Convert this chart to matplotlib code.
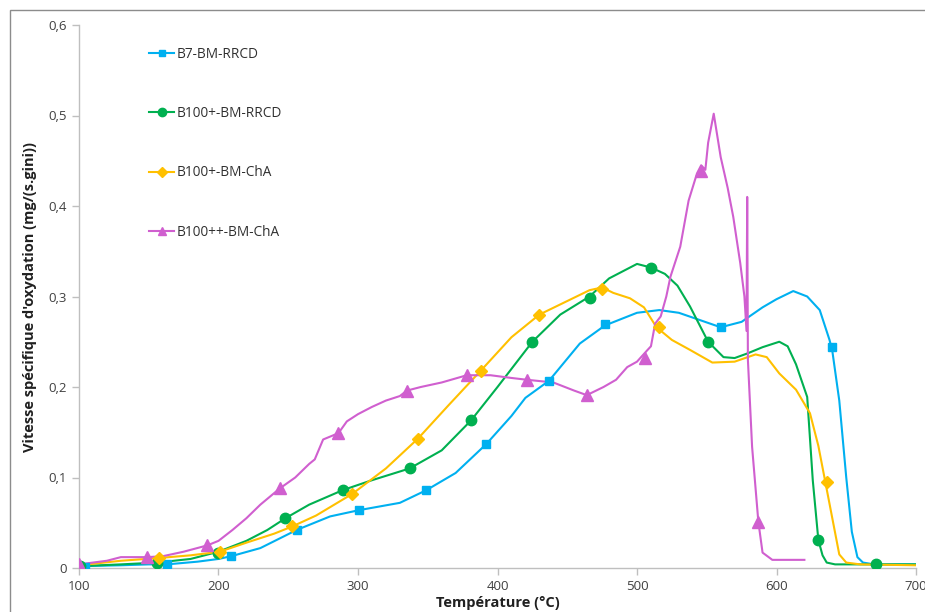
import matplotlib.pyplot as plt
from matplotlib.lines import Line2D
from matplotlib.patches import Rectangle

plt.rcParams['font.family'] = ['Open Sans', 'DejaVu Sans']

# --- data ---
# B7-BM-RRCD
t_b7 = [100, 130, 150, 163, 185, 200, 209, 230, 256, 280, 301, 330, 349, 370, 392,
        410, 420, 437, 459, 477, 500, 516, 530, 545, 560, 575, 590, 600, 612,
        622, 631, 638, 640, 645, 650, 654, 658, 662, 670, 700]
v_b7 = [0.002, 0.003, 0.004, 0.004, 0.007, 0.010, 0.013, 0.022, 0.042, 0.057, 0.064,
        0.072, 0.086, 0.105, 0.137, 0.168, 0.188, 0.207, 0.248, 0.268, 0.282, 0.285,
        0.282, 0.274, 0.266, 0.272, 0.288, 0.297, 0.306, 0.300, 0.285, 0.252, 0.240,
        0.185, 0.100, 0.040, 0.012, 0.006, 0.004, 0.004]
mk_t_b7 = [104, 163, 209, 256, 301, 349, 392, 437, 477, 560, 640]
mk_v_b7 = [0.001, 0.004, 0.013, 0.042, 0.064, 0.086, 0.137, 0.207, 0.270, 0.266, 0.244]

# B100+-BM-RRCD
t_g = [100, 130, 156, 180, 200, 220, 235, 248, 265, 289, 310, 337, 360, 381, 400,
       425, 445, 466, 480, 500, 510, 520, 529, 538, 551, 562, 570, 579, 590, 602,
       608, 614, 622, 626, 630, 633, 636, 642, 660, 700]
v_g = [0.002, 0.004, 0.006, 0.010, 0.018, 0.030, 0.042, 0.055, 0.070, 0.086, 0.097,
       0.110, 0.130, 0.163, 0.200, 0.250, 0.280, 0.300, 0.320, 0.336, 0.332, 0.325,
       0.312, 0.289, 0.250, 0.233, 0.232, 0.237, 0.244, 0.250, 0.245, 0.225, 0.189,
       0.097, 0.031, 0.014, 0.006, 0.004, 0.004, 0.004]
mk_t_g = [101, 156, 200, 248, 289, 337, 381, 425, 466, 510, 551, 630, 671]
mk_v_g = [0.002, 0.006, 0.017, 0.055, 0.086, 0.110, 0.163, 0.250, 0.298, 0.332, 0.250,
          0.031, 0.004]

# B100+-BM-ChA
t_y = [100, 130, 157, 180, 201, 220, 240, 253, 270, 296, 320, 343, 365, 388, 410,
       430, 450, 466, 475, 483, 495, 505, 514, 525, 538, 554, 570, 585, 593, 602,
       614, 624, 630, 635, 640, 645, 650, 660, 700]
v_y = [0.003, 0.008, 0.011, 0.014, 0.018, 0.028, 0.038, 0.046, 0.058, 0.082, 0.110,
       0.143, 0.180, 0.218, 0.255, 0.280, 0.295, 0.307, 0.310, 0.304, 0.298, 0.288,
       0.266, 0.252, 0.241, 0.227, 0.228, 0.236, 0.233, 0.215, 0.197, 0.171, 0.135,
       0.095, 0.055, 0.015, 0.006, 0.004, 0.003]
mk_t_y = [157, 201, 253, 296, 343, 388, 430, 475, 516, 636]
mk_v_y = [0.011, 0.018, 0.046, 0.082, 0.143, 0.218, 0.280, 0.308, 0.266, 0.095]

# B100++-BM-ChA
t_p = [100, 120, 130, 149, 160, 175, 192, 200, 210, 220, 230, 244, 255, 265, 269,
       275, 286, 292, 300, 310, 320, 330, 335, 345, 360, 378, 395, 410, 421, 440,
       455, 464, 476, 485, 493, 500, 507, 510, 513, 517, 521, 524, 531, 537, 543,
       546, 549, 551, 555, 560, 565, 569, 574, 577, 578.5, 579, 579.5, 582.5, 587,
       590, 597, 620]
v_p = [0.004, 0.008, 0.012, 0.012, 0.013, 0.018, 0.025, 0.030, 0.042, 0.055, 0.070,
       0.088, 0.100, 0.115, 0.120, 0.142, 0.149, 0.162, 0.170, 0.178, 0.185, 0.190,
       0.196, 0.200, 0.205, 0.213, 0.213, 0.210, 0.208, 0.205, 0.196, 0.191, 0.200,
       0.208, 0.222, 0.228, 0.240, 0.245, 0.270, 0.278, 0.300, 0.322, 0.355, 0.406,
       0.436, 0.445, 0.440, 0.470, 0.502, 0.454, 0.420, 0.388, 0.337, 0.300, 0.262,
       0.410, 0.230, 0.134, 0.051, 0.017, 0.009, 0.009]
mk_t_p = [100, 149, 192, 244, 286, 335, 378, 421, 464, 506, 546, 587]
mk_v_p = [0.004, 0.012, 0.025, 0.088, 0.149, 0.196, 0.213, 0.208, 0.191, 0.232,
          0.439, 0.051]

series = [
    ("B7-BM-RRCD", t_b7, v_b7, mk_t_b7, mk_v_b7, "#00B0F0", "s", 6),
    ("B100+-BM-RRCD", t_g, v_g, mk_t_g, mk_v_g, "#00B050", "o", 7.5),
    ("B100+-BM-ChA", t_y, v_y, mk_t_y, mk_v_y, "#FFC000", "D", 6),
    ("B100++-BM-ChA", t_p, v_p, mk_t_p, mk_v_p, "#D05FCF", "^", 8),
]

fig = plt.figure(figsize=(9.25, 6.12), dpi=100)
ax = fig.add_axes([79 / 925, 1 - 568 / 612, (916 - 79) / 925, (568 - 25) / 612])

handles = []
for label, t, v, mt, mv, color, marker, ms in series:
    ax.plot(t, v, color=color, linewidth=1.5, zorder=2)
    ax.plot(mt, mv, linestyle="none", marker=marker, color=color,
            markersize=ms, zorder=3)
    handles.append(Line2D([], [], color=color, linewidth=1.5, marker=marker,
                          markersize=ms * 0.8, label=label))

ax.set_xlim(100, 700)
ax.set_ylim(0, 0.6)
ax.set_xticks(range(100, 701, 100))
ax.set_yticks([0, 0.1, 0.2, 0.3, 0.4, 0.5, 0.6])
ax.set_yticklabels(["0", "0,1", "0,2", "0,3", "0,4", "0,5", "0,6"])

for side in ["top", "right"]:
    ax.spines[side].set_visible(False)
for side in ["left", "bottom"]:
    ax.spines[side].set_color("#BFBFBF")
    ax.spines[side].set_linewidth(1.0)
ax.tick_params(axis="both", direction="out", length=5, width=1,
               color="#BFBFBF", labelcolor="#404040", labelsize=9.5, pad=4)

ax.set_xlabel("Température (°C)", fontsize=10.5, fontweight="bold",
              color="#202020", labelpad=2)
ax.set_ylabel("Vitesse spécifique d'oxydation (mg/(s.gini))", fontsize=10.5,
              fontweight="bold", color="#202020", labelpad=8)

ax.legend(handles=handles, loc="upper left", bbox_to_anchor=(0.069, 0.982),
          frameon=False, fontsize=9.8, labelspacing=3.25, handlelength=1.85,
          handletextpad=0.2, labelcolor="#303030")

# outer frame of the chart area
fig.patches.append(Rectangle((10 / 925, -0.05), 1.1, 1 - 10 / 612 + 0.05,
                             transform=fig.transFigure, fill=False,
                             edgecolor="#8C8C8C", linewidth=1.0))

fig.savefig("out.png", dpi=100)
